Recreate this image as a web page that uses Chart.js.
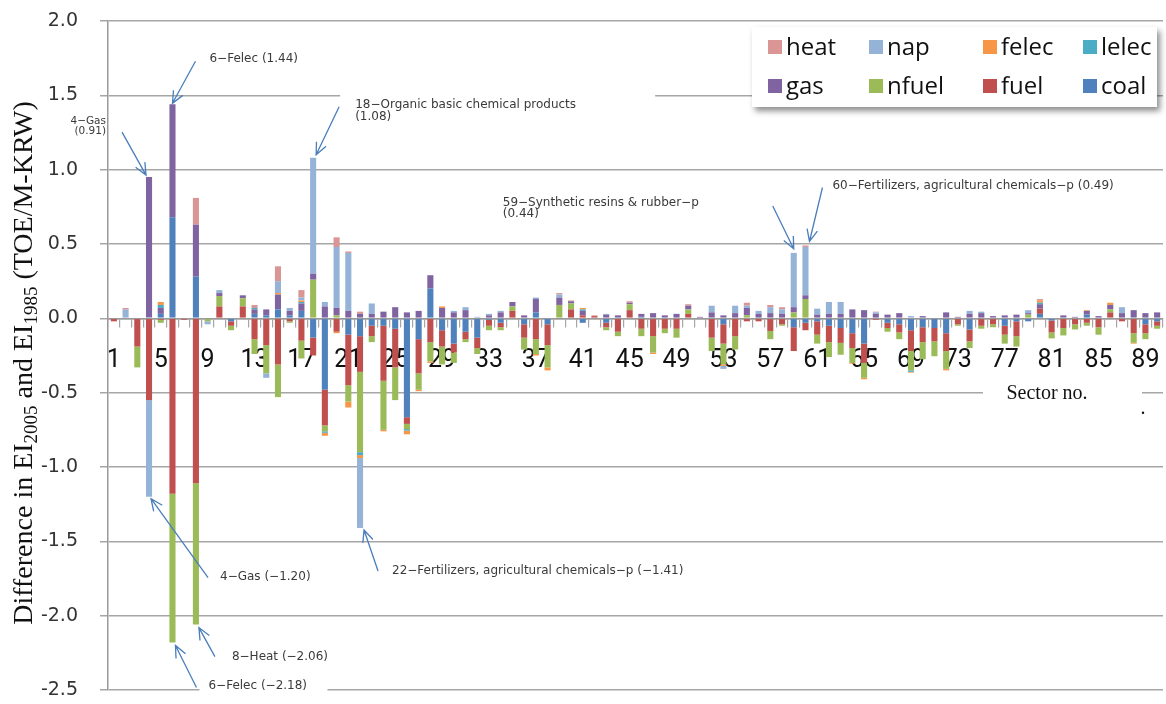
<!DOCTYPE html>
<html>
<head>
<meta charset="utf-8">
<script src="https://cdn.jsdelivr.net/npm/chart.js@4.4.1/dist/chart.umd.min.js"></script>
<style>
  html, body { margin: 0; padding: 0; background: #fff; }
  #wrap { width: 1166px; height: 704px; }
</style>
</head>
<body>
<div id="wrap"><canvas id="chart" width="1166" height="704"></canvas></div>
<script>
// ── DATA ──
const SECTORS = Array.from({ length: 90 }, (_, i) => String(i + 1));
const TICK_LABELS = ['1','5','9','13','17','21','25','29','33','37','41','45','49','53','57','61','65','69','73','77','81','85','89'];
const Y_TICKS = [-2.5, -2.0, -1.5, -1.0, -0.5, 0.0, 0.5, 1.0, 1.5, 2.0];

const coal = [
  0,0,0,0,0.03,0.68,0,0.28,0,0,
  -0.02,0,0.03,0.02,0.06,0.02,0.05,-0.13,-0.48,0,
  -0.11,-0.12,-0.05,-0.05,-0.07,-0.665,-0.14,0.2,-0.08,-0.17,
  -0.09,-0.13,-0.01,-0.03,0,-0.04,0.04,-0.04,0,0,
  -0.03,0,-0.03,0,0,0.01,0,0,0,0,
  0,0,-0.04,0,0,0,0,0,-0.06,-0.03,
  -0.02,-0.05,-0.065,-0.1,-0.17,0,-0.03,-0.04,-0.08,-0.06,
  -0.065,-0.1,0,-0.075,0,0,-0.05,-0.02,-0.02,0.03,
  -0.015,0,0,0.025,0,0,0,0,-0.04,-0.02];
const fuel = [
  -0.02,0,-0.19,-0.55,-0.01,-1.18,-0.01,-1.11,0,0.08,
  -0.03,0.08,-0.14,-0.18,-0.31,-0.02,-0.15,-0.12,-0.24,-0.09,
  -0.34,-0.24,-0.07,-0.37,-0.26,-0.045,-0.23,-0.16,-0.11,-0.06,
  -0.05,-0.07,-0.04,-0.03,0.05,-0.09,-0.14,-0.14,0,0.06,
  0.02,0.015,-0.03,-0.09,0.055,-0.07,-0.12,-0.07,-0.07,0.03,
  0,-0.13,-0.13,-0.12,-0.02,-0.02,-0.085,-0.04,-0.16,-0.05,
  -0.09,-0.11,-0.1,-0.1,-0.13,-0.01,-0.035,-0.055,-0.14,-0.1,
  -0.09,-0.12,-0.04,-0.08,-0.05,-0.04,-0.06,-0.1,0,0.035,
  -0.08,-0.065,-0.04,-0.03,-0.06,0.04,-0.02,-0.1,-0.06,-0.03];
const nfuel = [
  0,0,-0.14,0,-0.02,-1.0,0,-0.95,-0.02,0.07,
  -0.03,0.055,-0.1,-0.19,-0.22,-0.01,-0.12,0.26,-0.04,0.02,
  -0.11,-0.54,-0.04,-0.33,-0.22,-0.035,-0.11,-0.13,-0.12,-0.07,
  -0.02,-0.04,-0.03,-0.02,0.03,-0.08,-0.1,-0.15,0.09,0.04,
  0,0,-0.02,-0.03,0.04,-0.05,-0.11,-0.03,-0.06,0.03,
  0,-0.09,-0.14,-0.09,0.02,0,-0.055,-0.01,0.04,0.13,
  -0.06,-0.1,-0.08,-0.1,-0.1,0,-0.025,-0.045,-0.13,-0.115,
  -0.1,-0.12,-0.01,-0.045,-0.02,-0.02,-0.06,-0.07,0.025,0,
  -0.04,-0.05,-0.035,-0.02,-0.05,0.02,0,-0.065,-0.04,-0.02];
const gas = [
  0,0,0,0.95,0.04,0.76,0,0.35,0,0.02,
  0,0.02,0.03,0.04,0.1,0.03,0.05,0.04,0.08,0.05,
  0.05,0.03,0.03,0.045,0.075,0.04,0.05,0.09,0.07,0.04,
  0.055,0,0.02,0.04,0.03,0.02,0.09,0,0.05,0.015,
  0.03,0,0.025,0.02,0.01,0.02,0.035,0.02,0.03,0.025,
  0.01,0.04,0.02,0.035,0.05,0.03,0.035,0.03,0.035,0.025,
  0.025,0.03,0.03,0.06,0.055,0.03,0.025,0.035,0,0.015,
  0,0.04,0.01,0.03,0.035,0.015,0.02,0.025,0.01,0.03,
  0,0.02,0.01,0.025,0.015,0.03,0.035,0.055,0.035,0.04];
const lelec = [
  0,0,0,0,0.02,0,0,0,0,0,
  0,0,0.01,0,0,0,0.01,0,-0.01,0,
  0,-0.02,0,0,0,-0.01,0,0,0,0,
  0,0,0,0,0,0,0,0,0,0,
  0.01,0,0,0,0,0,0,0,0,0,
  0,0,0,0,0,0,0,0,0,0,
  0,0,0,0,0,0,0,0,-0.01,0,
  0,0,0,0,0,0,0,0,0,0.01,
  0,0,0,0,0,0,0,0,0,0];
const felec = [
  0,0,0,0,0.02,0,0,0,0,0,
  0,0,0,0,0.01,0,0.01,0,-0.02,-0.01,
  -0.04,-0.02,0,-0.01,0,-0.025,-0.01,-0.01,0.01,0,
  0,0,0,0,0,0,-0.01,-0.02,0,0,
  0.01,0,0,0,0,0,-0.01,0,0,0,
  0,0,-0.01,0,0,0,0,0,0,0,
  0,0,0,-0.005,-0.01,0,0,0,-0.005,0,
  0,-0.01,0,0,0,0,0,0,0,0.015,
  0,0,0,0.005,0,0.015,0,-0.005,0,0];
const nap = [
  0,0.06,0,-0.65,0,0,0,0,-0.02,0.02,
  0,0,0,-0.03,0.08,0.02,0.02,0.78,0.03,0.41,
  0.39,-0.47,0.07,0,0,0,0,0,0,0.01,
  0.02,0.01,0.01,0.01,0,0,0.01,0,0.02,0,
  0,0,0.005,0,0,0,0,0,0,0,
  0,0.045,-0.02,0.05,0.015,0.02,0.04,0.03,0.365,0.325,
  0.04,0.08,0.08,0,0,0.01,0,0,0.015,0,
  0,0,0,0.02,0.01,0,0,0,0.02,0,
  0,0,0,0,0,0,0.04,0,0,0];
const heat = [
  0,0.01,0,0,0,0,0,0.18,0,0,
  0,0,0.02,0,0.1,0,0.05,0,0,0.065,
  0.01,0.015,0,0,0,0,0,0,0,0,
  0,0,0,0,0,0,0,0,0.01,0.005,
  0,0.005,0,0,0.01,0,0,0,0,0.01,
  0,0,0,0,0.02,0,0.015,0.015,0,0.01,
  0,0,0,0,0,0.005,0,0,0,0,
  0,0,0,0,0,0,0,0,0,0.01,
  0,0,0,0,0,0,0,0,0,0];

// stacking order from zero outwards
const SERIES = [
  { label: 'coal',  data: coal,  color: '#4f81bd' },
  { label: 'fuel',  data: fuel,  color: '#c0504d' },
  { label: 'nfuel', data: nfuel, color: '#9bbb59' },
  { label: 'gas',   data: gas,   color: '#8064a2' },
  { label: 'lelec', data: lelec, color: '#4bacc6' },
  { label: 'felec', data: felec, color: '#f79646' },
  { label: 'nap',   data: nap,   color: '#95b3d7' },
  { label: 'heat',  data: heat,  color: '#d99694' },
];
const LEGEND_ORDER = ['heat','nap','felec','lelec','gas','nfuel','fuel','coal'];

// callouts: sector, value the arrow points at, offsets from that bar end
const NOTES = [
  { sector: 6,  value: 1.44,  tip: [0,-1],  tail: [23,-43], text: ['6\u2212Felec (1.44)'], at: [37,-45] },
  { sector: 4,  value: 0.95,  tip: [-3,-2], tail: [-27,-45], text: ['4\u2212Gas', '(0.91)'], at: [-43,-56], align: 'right', size: 10.5, lh: 10 },
  { sector: 18, value: 1.08,  tip: [3,-3],  tail: [26,-51], text: ['18\u2212Organic basic chemical products', '(1.08)'], at: [42,-53], lh: 12, clear: [27,-68,315,44] },
  { sector: 59, value: 0.44,  tip: [0,-4],  tail: [-21,-47], text: ['59\u2212Synthetic resins & rubber\u2212p', '(0.44)'], at: [-291,-50], lh: 11 },
  { sector: 60, value: 0.49,  tip: [4,-4],  tail: [17,-58], text: ['60\u2212Fertilizers, agricultural chemicals\u2212p (0.49)'], at: [27,-60] },
  { sector: 4,  value: -1.20, tip: [2,2],   tail: [59,81],  text: ['4\u2212Gas (\u22121.20)'], at: [71,80] },
  { sector: 22, value: -1.41, tip: [4,2],   tail: [18,43],  text: ['22\u2212Fertilizers, agricultural chemicals\u2212p (\u22121.41)'], at: [32,43] },
  { sector: 8,  value: -2.06, tip: [3,3],   tail: [19,32],  text: ['8\u2212Heat (\u22122.06)'], at: [36,32] },
  { sector: 6,  value: -2.18, tip: [3,3],   tail: [24,45],  text: ['6\u2212Felec (\u22122.18)'], at: [36,43], clear: [27,37,128,16] },
];

const GRID = '#a6a6a6';
const ARROW = '#4a7ebb';
const NOTE_FONT = '"DejaVu Sans", sans-serif';

// ── ARROWS & CALLOUT TEXT ──
function drawArrow(ctx, x1, y1, x2, y2) {
  const a = Math.atan2(y2 - y1, x2 - x1), h = 13, s = 0.42;
  ctx.beginPath();
  ctx.moveTo(x1, y1); ctx.lineTo(x2, y2);
  ctx.moveTo(x2 - h * Math.cos(a - s), y2 - h * Math.sin(a - s));
  ctx.lineTo(x2, y2);
  ctx.lineTo(x2 - h * Math.cos(a + s), y2 - h * Math.sin(a + s));
  ctx.stroke();
}

const notesPlugin = {
  id: 'notes',
  afterDatasetsDraw(chart) {
    const { ctx, scales: { x, y }, chartArea } = chart;
    ctx.save();
    NOTES.forEach(n => {
      const bx = x.getPixelForValue(n.sector - 1);
      const by = y.getPixelForValue(n.value);
      if (n.clear) {
        ctx.fillStyle = '#fff';
        ctx.fillRect(bx + n.clear[0], by + n.clear[1], n.clear[2], n.clear[3]);
      }
      ctx.strokeStyle = ARROW;
      ctx.lineWidth = 1.3;
      drawArrow(ctx, bx + n.tail[0], by + n.tail[1], bx + n.tip[0], by + n.tip[1]);
      ctx.fillStyle = '#3a3a3a';
      ctx.font = `${n.size || 12}px ${NOTE_FONT}`;
      ctx.textAlign = n.align || 'left';
      ctx.textBaseline = 'middle';
      n.text.forEach((t, i) => ctx.fillText(t, bx + n.at[0], by + n.at[1] + i * (n.lh || 12)));
    });

    // "Sector no." label on the -0.5 grid line
    const sy = y.getPixelForValue(-0.5);
    ctx.fillStyle = '#fff';
    ctx.fillRect(chartArea.right - 180, sy - 9, 159, 18);
    ctx.fillStyle = '#111';
    ctx.font = '20px "Liberation Serif", "Times New Roman", serif';
    ctx.textAlign = 'center';
    ctx.fillText('Sector no.', chartArea.right - 116, sy + 1);
    ctx.fillText('.', chartArea.right - 20, sy + 16);
    ctx.restore();
  },
  afterDraw(chart) {
    const { ctx, chartArea } = chart;
    ctx.save();
    // ── LEGEND BOX ──
    const lx = chartArea.right - 411, ly = chartArea.top + 6, lw = 405, lh = 80;
    ctx.shadowColor = 'rgba(0,0,0,0.45)';
    ctx.shadowBlur = 6; ctx.shadowOffsetX = 3; ctx.shadowOffsetY = 4;
    ctx.fillStyle = '#fff';
    ctx.fillRect(lx, ly, lw, lh);
    ctx.shadowColor = 'transparent';
    const cols = [16, 117, 231, 331];
    const rows = [20, 59];
    ctx.font = '24px "Open Sans", sans-serif';
    ctx.textBaseline = 'middle';
    ctx.textAlign = 'left';
    LEGEND_ORDER.forEach((name, i) => {
      const s = SERIES.find(d => d.label === name);
      const cx = lx + cols[i % 4], cy = ly + rows[Math.floor(i / 4)];
      ctx.fillStyle = s.color;
      ctx.fillRect(cx, cy - 7, 14, 14);
      ctx.fillStyle = '#111';
      ctx.fillText(name, cx + 18, cy + 1);
    });

    // ── Y TITLE with subscripts ──
    const parts = [
      ['Difference in EI', 0], ['2005', 1], [' and EI', 0], ['1985', 1], [' (TOE/M-KRW)', 0]
    ];
    const big = '28px "Liberation Serif", "Times New Roman", serif';
    const small = '19px "Liberation Serif", "Times New Roman", serif';
    let total = 0;
    parts.forEach(p => { ctx.font = p[1] ? small : big; total += ctx.measureText(p[0]).width; });
    ctx.translate(25, 363);
    ctx.rotate(-Math.PI / 2);
    ctx.fillStyle = '#111';
    ctx.textBaseline = 'middle';
    let px = -total / 2;
    parts.forEach(p => {
      ctx.font = p[1] ? small : big;
      ctx.fillText(p[0], px, p[1] ? 7 : 0);
      px += ctx.measureText(p[0]).width;
    });
    ctx.restore();
  }
};

// ── CHART ──
const chart = new Chart(document.getElementById('chart'), {
  type: 'bar',
  data: {
    labels: SECTORS,
    datasets: SERIES.map(s => ({
      label: s.label,
      data: s.data,
      backgroundColor: s.color,
      borderWidth: 0,
      barPercentage: 0.52,
      categoryPercentage: 1.0,
    })),
  },
  options: {
    responsive: false,
    animation: false,
    layout: { padding: { left: 0, right: 3, top: 21, bottom: 14 } },
    plugins: { legend: { display: false }, tooltip: { enabled: false } },
    scales: {
      x: {
        stacked: true,
        position: { y: 0 },
        z: 1,
        grid: { drawOnChartArea: false, drawTicks: true, tickLength: 8, color: GRID, lineWidth: 1.2 },
        border: { display: true, color: '#9a9a9a', width: 1.5 },
        ticks: {
          autoSkip: false, maxRotation: 0, padding: 19, color: '#111',
          font: { family: 'Roboto, "Noto Sans", sans-serif', size: 25 },
          callback: function (v, i) {
            const l = SECTORS[i];
            return TICK_LABELS.includes(l) ? l : '';
          },
        },
        afterFit(s) { s.height = 0; s.paddingLeft = 0; s.paddingRight = 0; },
      },
      y: {
        stacked: true,
        min: -2.5, max: 2.0,
        afterBuildTicks(s) { s.ticks = Y_TICKS.map(v => ({ value: v })); },
        grid: { color: GRID, lineWidth: 1.5, tickLength: 8 },
        border: { display: true, color: '#9a9a9a', width: 1.5 },
        ticks: {
          padding: 22, color: '#333',
          font: { family: '"DejaVu Sans", sans-serif', size: 19 },
          callback: v => v.toFixed(1),
        },
        afterFit(s) { s.width = 108; s.paddingTop = 0; s.paddingBottom = 0; },
      },
    },
  },
  plugins: [notesPlugin],
});
</script>
</body>
</html>
